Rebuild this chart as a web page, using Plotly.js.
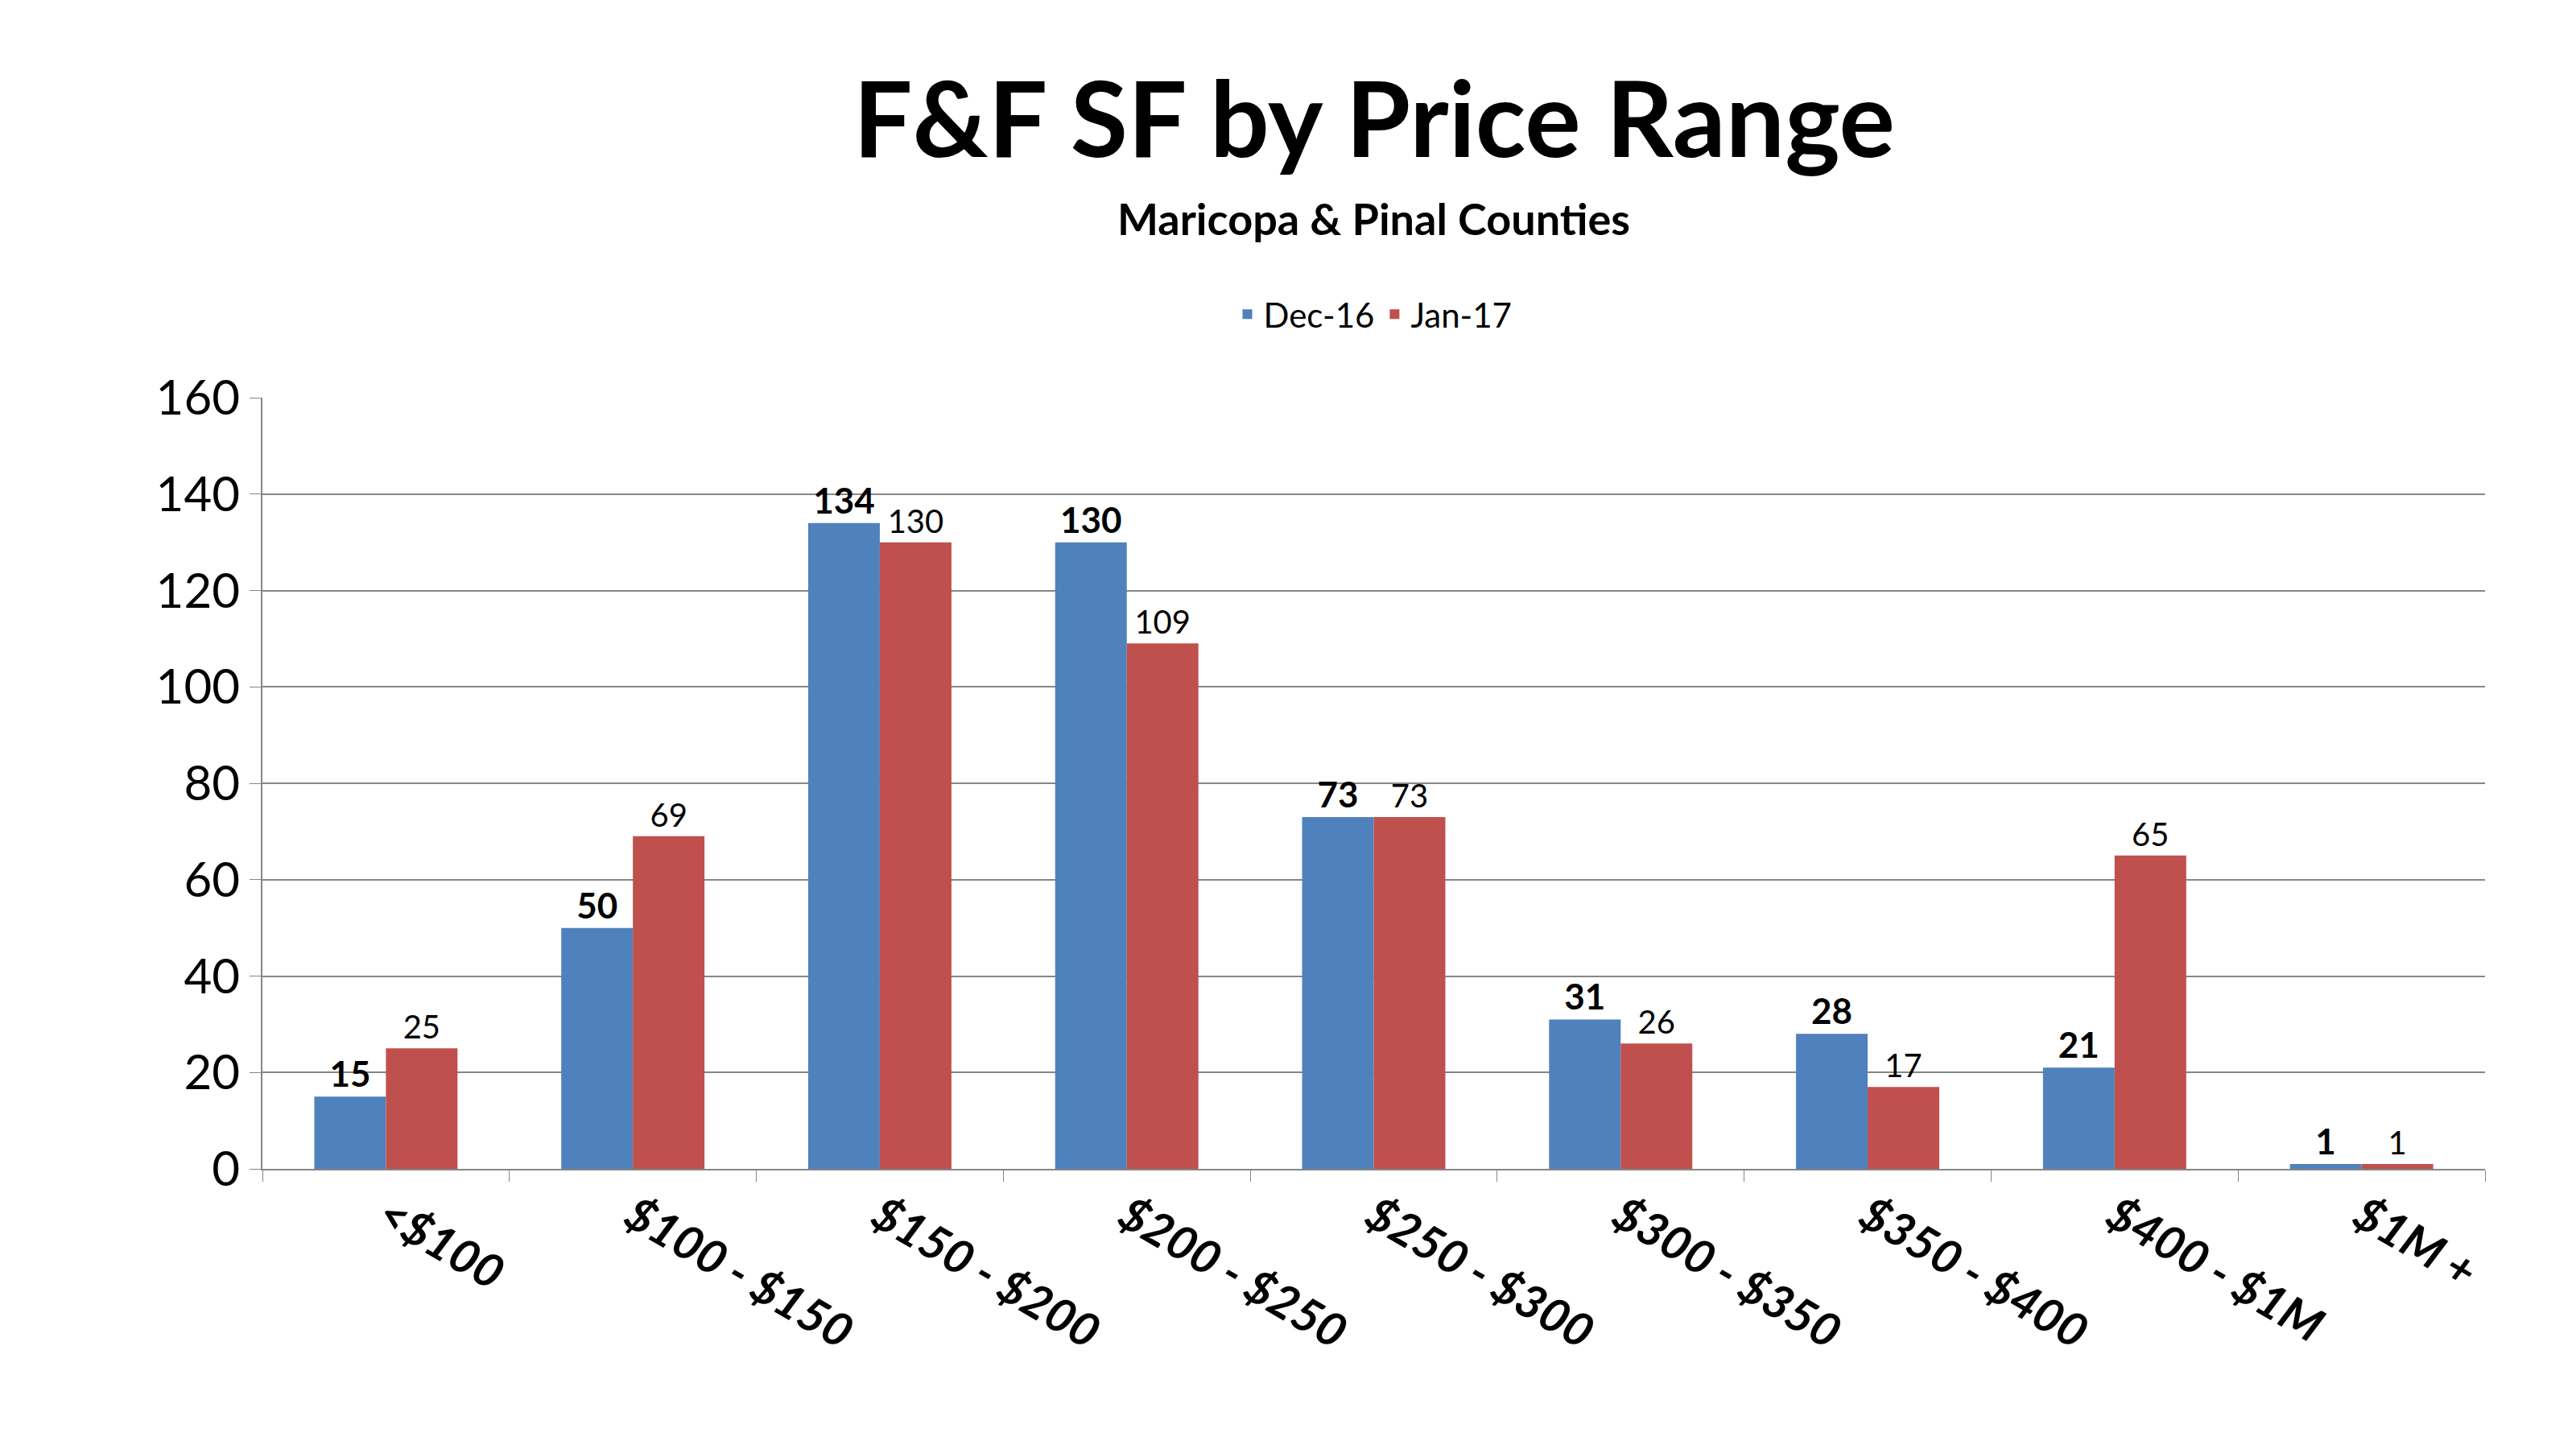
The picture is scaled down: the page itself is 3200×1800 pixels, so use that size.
<!DOCTYPE html>
<html>
<head>
<script src="https://cdn.plot.ly/plotly-3.0.1.min.js"></script>
<style>body{margin:0;background:#fff}</style>
</head>
<body>
<div id="chart" style="width:3200px;height:1800px"></div>
<script>
const categories = ['<$100', '$100 - $150', '$150 - $200', '$200 - $250', '$250 - $300', '$300 - $350', '$350 - $400', '$400 - $1M', '$1M +'];
const dec16 = [15, 50, 134, 130, 73, 31, 28, 21, 1];
const jan17 = [25, 69, 130, 109, 73, 26, 17, 65, 1];

const font = 'Lato, "Open Sans", sans-serif';

const trace1 = {
  x: categories, y: dec16, name: 'Dec-16', type: 'bar',
  marker: {color: '#4F81BD'},
  text: dec16.map(v => '<b>' + v + '</b>'), textposition: 'outside',
  textfont: {size: 44, color: '#000', family: font}, cliponaxis: false
};
const trace2 = {
  x: categories, y: jan17, name: 'Jan-17', type: 'bar',
  marker: {color: '#C0504D'},
  text: jan17.map(String), textposition: 'outside',
  textfont: {size: 40, color: '#000', family: font}, cliponaxis: false
};

const layout = {
  width: 3200, height: 1800,
  font: {family: font, color: '#000'},
  annotations: [
    {text: '<b>F&F SF by Price Range</b>', xref: 'paper', yref: 'paper', x: 0.5, y: 1.364,
     yanchor: 'middle', showarrow: false, font: {size: 130}},
    {text: '<b>Maricopa & Pinal Counties</b>', xref: 'paper', yref: 'paper', x: 0.5, y: 1.232,
     yanchor: 'middle', showarrow: false, font: {size: 54}}
  ],
  margin: {l: 326, r: 113, t: 494, b: 348},
  barmode: 'group', bargap: 0.42, bargroupgap: 0,
  showlegend: true,
  legend: {orientation: 'h', x: 0.5, xanchor: 'center', y: 1.108, yanchor: 'middle',
           font: {size: 42}, itemwidth: 30},
  xaxis: {
    tickangle: 30, tickfont: {size: 58, family: font},
    tickvals: categories,
    ticktext: categories.map(c => '<b><i>' + c.replace('<', '&lt;') + '</i></b>'),
    ticks: 'outside', tickson: 'boundaries', ticklen: 14, tickcolor: '#868686',
    showline: true, linecolor: '#868686', linewidth: 2
  },
  yaxis: {
    range: [0, 160], dtick: 20, tickfont: {size: 60},
    gridcolor: '#868686', gridwidth: 2, zeroline: false,
    showline: true, linecolor: '#868686', linewidth: 2,
    ticks: 'outside', ticklen: 14, tickcolor: '#868686'
  },
  plot_bgcolor: '#fff', paper_bgcolor: '#fff'
};

Plotly.newPlot('chart', [trace1, trace2], layout, {displayModeBar: false});
</script>
</body>
</html>
